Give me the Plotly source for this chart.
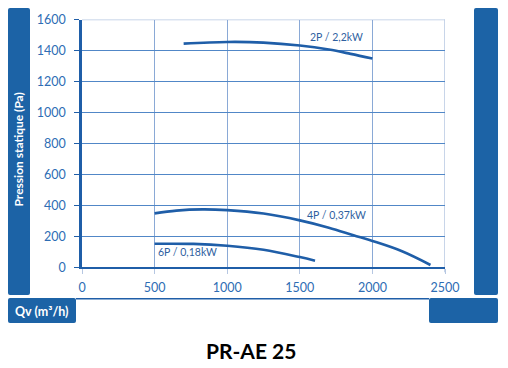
import plotly.graph_objects as go

# ---- data ----
x_2p = [700, 1000, 1250, 1500, 1700, 1850, 2000]
y_2p = [1444, 1455, 1451, 1432, 1406, 1378, 1348]
x_4p = [500, 650, 830, 1000, 1250, 1500, 1700, 1870, 2000, 2200, 2400]
y_4p = [348, 366, 374, 369, 347, 303, 256, 207, 170, 105, 15]
x_6p = [500, 767, 1000, 1250, 1500, 1605]
y_6p = [152, 151, 139, 113, 66, 43]

labels = ["2P / 2,2kW", "4P / 0,37kW", "6P / 0,18kW"]
label_x = [1755, 1755, 728]
label_y = [1488, 337, 99]

x_ticks = [0, 500, 1000, 1500, 2000, 2500]
y_ticks = [0, 200, 400, 600, 800, 1000, 1200, 1400, 1600]

title_text = "PR-AE 25"
y_title = "Pression statique (Pa)"
x_title = "Qv (m³/h)"

# the page body adds an 8px margin, so the figure is offset by 8px
OFF = 8
W, H = 508 - OFF, 368 - OFF
LINE = "#1f5ea8"
BAR = "#1c63a6"
TICKC = "#2e6db4"
FONT = "Lato"

def px(x):
    return (x - OFF) / W

def py(y):
    return 1 - (y - OFF) / H

fig = go.Figure()
for xs, ys in [(x_2p, y_2p), (x_4p, y_4p), (x_6p, y_6p)]:
    fig.add_trace(go.Scatter(x=xs, y=ys, mode="lines",
                             line=dict(color=LINE, width=2.6, shape="spline", smoothing=1.0),
                             showlegend=False, hoverinfo="skip", cliponaxis=False))

annotations = []
for t, ax_, ay_ in zip(labels, label_x, label_y):
    annotations.append(dict(x=ax_, y=ay_, xref="x", yref="y", text=t, showarrow=False,
                            xanchor="center", yanchor="middle",
                            font=dict(family=FONT, size=10.5, color="#2f5f9f")))

annotations.append(dict(x=px(18.5), y=py(150), xref="paper", yref="paper", text="<b>" + y_title + "</b>",
                        textangle=-90, showarrow=False, xanchor="center", yanchor="middle",
                        font=dict(family=FONT, size=12, color="white")))
annotations.append(dict(x=px(41.5), y=py(311), xref="paper", yref="paper", text="<b>" + x_title + "</b>",
                        showarrow=False, xanchor="center", yanchor="middle",
                        font=dict(family=FONT, size=12.5, color="white")))
annotations.append(dict(x=px(251), y=py(350), xref="paper", yref="paper", text="<b>" + title_text + "</b>",
                        showarrow=False, xanchor="center", yanchor="middle",
                        font=dict(family=FONT, size=21, color="black")))

shapes = []
def rrect(x0, y0, x1, y1, r=2.0):
    # rounded rectangle in pixel coords -> paper path
    x0 = max(x0, OFF); y0 = max(y0, OFF)
    def P(x, y):
        return f"{px(x):.5f},{py(y):.5f}"
    path = (f"M {P(x0 + r, y0)} L {P(x1 - r, y0)} Q {P(x1, y0)} {P(x1, y0 + r)} "
            f"L {P(x1, y1 - r)} Q {P(x1, y1)} {P(x1 - r, y1)} "
            f"L {P(x0 + r, y1)} Q {P(x0, y1)} {P(x0, y1 - r)} "
            f"L {P(x0, y0 + r)} Q {P(x0, y0)} {P(x0 + r, y0)} Z")
    shapes.append(dict(type="path", xref="paper", yref="paper", path=path,
                       fillcolor=BAR, line=dict(width=0), layer="above"))

rrect(7, 5, 30, 295)
rrect(474, 5, 498, 295)
rrect(7, 298, 76, 323)
rrect(429, 298, 498, 323)
shapes.append(dict(type="line", xref="paper", yref="paper", x0=px(76), x1=px(429),
                   y0=py(298.8), y1=py(298.8), line=dict(color=LINE, width=1.5)))
# light border lines at top and right of plot area
shapes.append(dict(type="line", xref="x domain", yref="y", x0=0, x1=1, y0=1600, y1=1600,
                   line=dict(color="#b6c7e2", width=1.5), layer="below"))
shapes.append(dict(type="line", xref="x", yref="y domain", x0=2500, x1=2500, y0=-0.02, y1=1,
                   line=dict(color="#b6c7e2", width=1.5), layer="below"))

fig.update_layout(
    width=W, height=H, margin=dict(l=0, r=0, t=0, b=0, pad=0, autoexpand=False),
    paper_bgcolor="white", plot_bgcolor="white",
    showlegend=False,
    annotations=annotations, shapes=shapes,
    xaxis=dict(domain=[px(82), px(445)], range=[0, 2500], tickvals=x_ticks, automargin=False,
               showgrid=True, gridcolor="#8aa9d6", gridwidth=1, zeroline=False,
               showline=True, linecolor=LINE, linewidth=1.5,
               ticks="outside", ticklen=5, tickcolor="#b6c7e2",
               tickfont=dict(family=FONT, size=12.5, color=TICKC), ticklabelstandoff=3),
    yaxis=dict(domain=[py(267.3), py(19.5)], range=[0, 1600], tickvals=y_ticks, automargin=False,
               showgrid=True, gridcolor="#5187c7", gridwidth=1, zeroline=False,
               showline=True, linecolor=LINE, linewidth=2.5,
               ticks="outside", ticklen=5, tickcolor=LINE,
               tickfont=dict(family=FONT, size=12.5, color=TICKC), ticklabelstandoff=6),
)

fig.write_html("out.html")
